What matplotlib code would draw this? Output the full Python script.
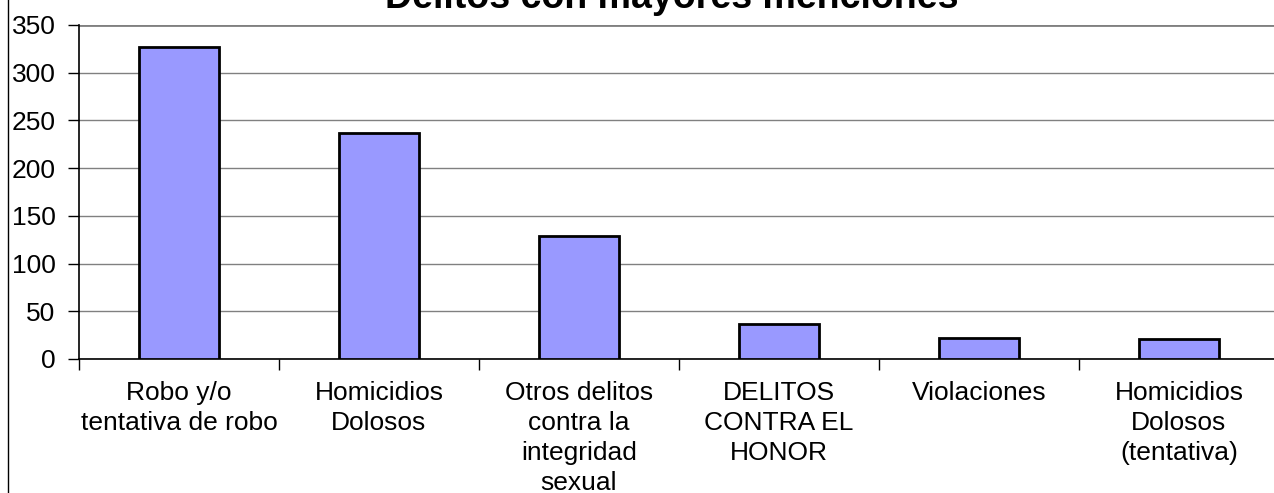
import numpy as np
import matplotlib.pyplot as plt

plt.rcParams['font.family'] = ['Liberation Sans', 'DejaVu Sans']

# Datos
categorias = [
    "Robo y/o\ntentativa de robo",
    "Homicidios\nDolosos",
    "Otros delitos\ncontra la\nintegridad\nsexual",
    "DELITOS\nCONTRA EL\nHONOR",
    "Violaciones",
    "Homicidios\nDolosos\n(tentativa)",
]
menciones = [327, 237, 129, 37, 22, 21]
y_ticks = [0, 50, 100, 150, 200, 250, 300, 350]

fig = plt.figure(figsize=(12.74, 4.93), dpi=100)
ax = fig.add_axes([79 / 1274, 1 - 359 / 493, 1200 / 1274, 334 / 493])

x = np.arange(len(categorias))
ax.bar(x, menciones, width=0.4, color="#9999FF", edgecolor="black", linewidth=2, zorder=3)

ax.set_xlim(-0.5, len(categorias) - 0.5)
ax.set_ylim(0, 350)
ax.set_yticks(y_ticks)
ax.tick_params(axis="y", labelsize=19, length=8, width=1, direction="out", pad=9)
ax.set_xticks(x)
ax.set_xticklabels(categorias, fontsize=19, linespacing=1.31)
ax.tick_params(axis="x", length=0, pad=16)
# marcas entre categorias
ax.set_xticks(np.arange(-0.5, len(categorias)), minor=True)
ax.tick_params(axis="x", which="minor", length=8, width=1, direction="out")

ax.yaxis.grid(True, color="#808080", linewidth=1, zorder=0)
ax.set_axisbelow(True)
for s in ["top", "right"]:
    ax.spines[s].set_visible(False)
ax.spines["left"].set_linewidth(1.2)
ax.spines["bottom"].set_linewidth(1.2)
ax.axhline(350, color="#808080", linewidth=2, zorder=1)

fig.text(0.527, 1 - 8 / 493, "Delitos con mayores menciones", ha="center", va="baseline",
         fontsize=27, fontweight="bold")

# borde izquierdo de la figura
fig.add_artist(plt.Line2D([8 / 1274, 8 / 1274], [0, 1], color="black", linewidth=1))

fig.savefig("out.png", dpi=100)
